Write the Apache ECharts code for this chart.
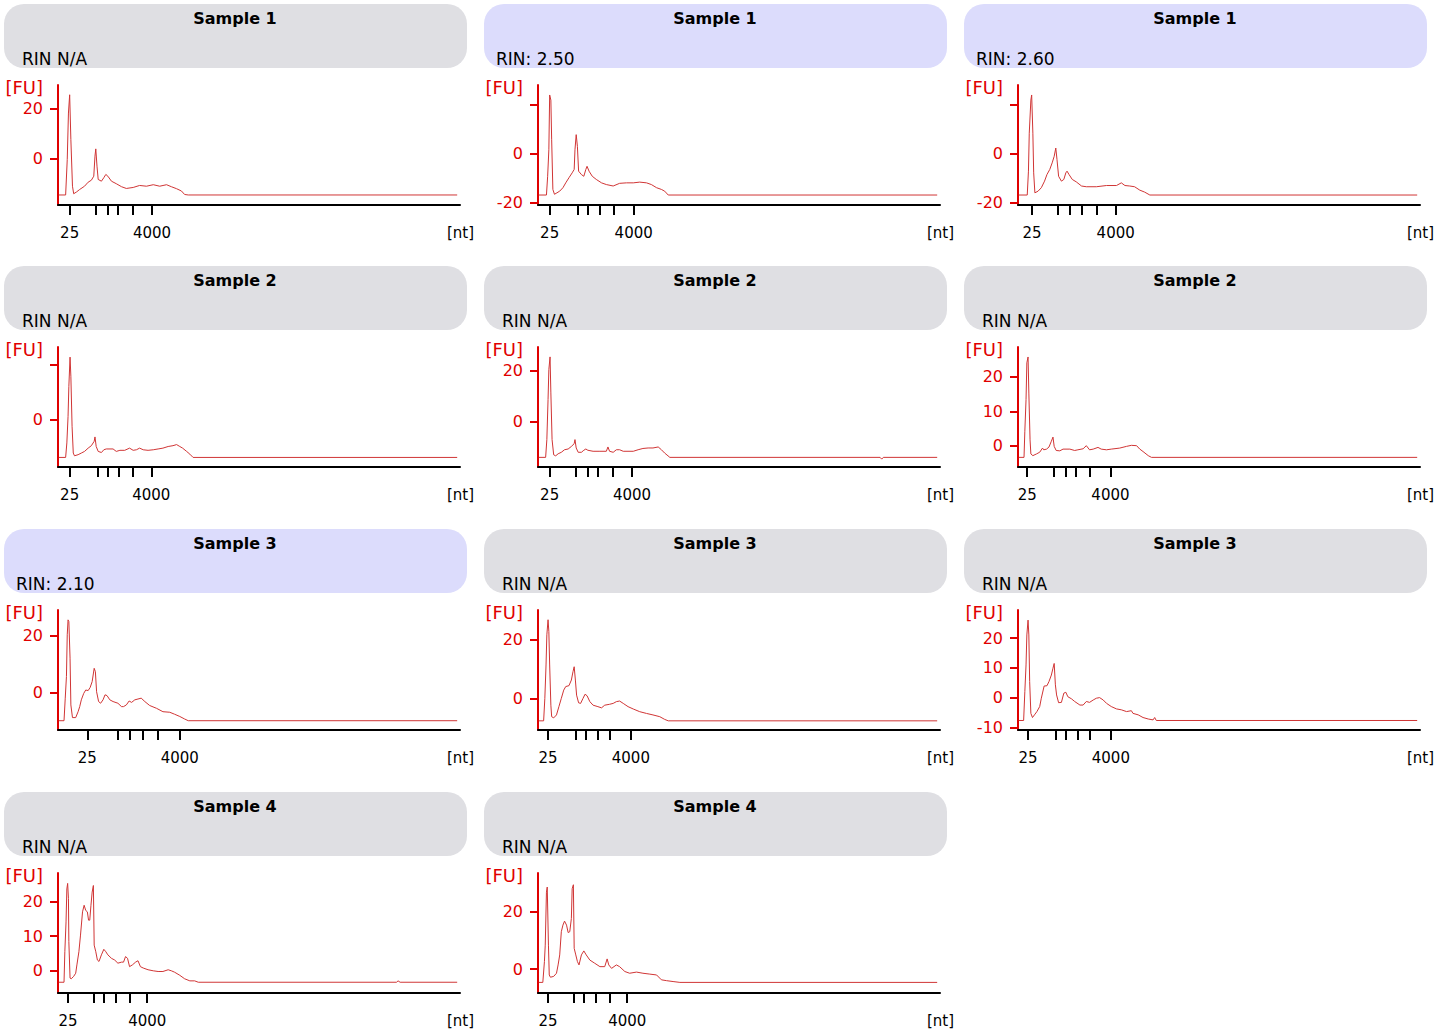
<!DOCTYPE html>
<html>
<head>
<meta charset="utf-8">
<script src="https://cdn.jsdelivr.net/npm/echarts@6/dist/echarts.min.js"></script>
<style>
html,body{margin:0;padding:0;background:#fff;}
#chart{width:1449px;height:1029px;}
</style>
</head>
<body>
<div id="chart"></div>
<script>
// ---------- data ----------
const sampleNames = ['Sample 1','Sample 1','Sample 1','Sample 2','Sample 2','Sample 2','Sample 3','Sample 3','Sample 3','Sample 4','Sample 4'];
const rinLabels = ['RIN N/A','RIN: 2.50','RIN: 2.60','RIN N/A','RIN N/A','RIN N/A','RIN: 2.10','RIN N/A','RIN N/A','RIN N/A','RIN N/A'];
const hasRin = [false,true,true,false,false,false,true,false,false,false,false];
// ladder marker positions (migration time units, 0-100) for 25, 200, 500, 1000, 2000, 4000 nt
const ladderTicks = [
  [2.9,9.4,12.4,14.9,18.5,23.4],
  [2.9,9.8,12.4,15.4,18.8,23.8],
  [3.5,9.8,12.9,15.9,19.5,24.3],
  [2.9,9.8,12.4,15.2,18.5,23.2],
  [2.9,9.4,12.4,14.9,18.5,23.4],
  [2.3,9.0,11.9,14.4,17.8,23.0],
  [7.3,14.9,17.8,21.0,24.7,30.3],
  [2.5,9.5,11.9,14.9,17.8,23.1],
  [2.5,9.5,11.9,14.9,17.8,23.1],
  [2.5,9.0,11.5,14.4,17.8,22.2],
  [2.5,9.0,11.5,14.4,17.8,22.2]
];
const ladderLabels = ['25','4000'];
const fuMin = [-18.4,-21.1,-21.1,-17.3,-18.0,-6.2,-13.4,-10.7,-10.9,-6.4,-8.3];
const fuMax = [29.5,28.2,28.2,26.6,29.3,28.7,29.2,29.9,29.5,28.2,33.6];
const fuTicks = [[0,20],[-20,0,20],[-20,0,20],[0,20],[0,20],[0,10,20],[0,20],[0,20],[-10,0,10,20],[0,10,20],[0,20]];
const fuLabels = [[0,20],[-20,0],[-20,0],[0],[0,20],[0,10,20],[0,20],[0,20],[-10,0,10,20],[0,10,20],[0,20]];

const traceA = [[0.2,-14.4],[1.9,-14.4],[2.3,-0.3],[2.6,18.3],[2.9,25.6],[3.2,7.7],[3.6,-10.9],[3.9,-13.9],[4.6,-13.2],[5.4,-12.2],[6.6,-10.9],[7.5,-9.3],[8.3,-8.5],[8.9,-6.9],[9.2,1.1],[9.4,4.0],[9.7,-2.9],[10.0,-8.2],[10.8,-8.9],[11.4,-7.5],[11.9,-6.2],[12.4,-6.9],[13.3,-8.9],[14.5,-9.9],[15.8,-11.1],[17.0,-11.8],[18.7,-11.4],[20.3,-10.6],[22.0,-10.9],[23.7,-10.3],[25.3,-10.9],[27.0,-10.3],[28.2,-11.1],[29.5,-11.9],[30.7,-12.8],[31.5,-14.2],[32.4,-14.4],[99.3,-14.4]];
const traceB = [[0.2,-17.0],[2.1,-17.0],[2.4,-9.3],[2.7,1.6],[2.9,24.1],[3.2,22.0],[3.4,5.7],[3.7,-14.7],[4.1,-16.7],[4.7,-16.1],[5.4,-15.4],[6.2,-14.0],[6.9,-12.0],[7.7,-9.9],[8.5,-7.9],[9.0,-6.5],[9.2,1.6],[9.5,7.8],[9.8,3.0],[10.1,-7.2],[10.8,-8.6],[11.4,-9.3],[11.9,-6.5],[12.2,-5.2],[12.7,-7.2],[13.5,-9.3],[14.5,-10.6],[15.8,-12.0],[17.0,-12.7],[18.7,-13.3],[20.3,-12.2],[22.0,-12.0],[23.7,-12.0],[25.3,-11.7],[27.0,-12.0],[28.2,-12.7],[29.5,-14.0],[30.7,-14.7],[31.5,-15.4],[32.4,-17.0],[99.3,-17.0]];
const traceC = [[0.2,-17.0],[2.3,-17.0],[2.6,-7.2],[2.8,8.4],[3.2,22.0],[3.4,24.1],[3.7,8.4],[3.9,-7.9],[4.2,-16.1],[5.0,-15.4],[5.8,-14.0],[6.6,-11.3],[7.2,-8.6],[7.9,-6.5],[8.5,-3.8],[9.0,-1.1],[9.4,2.3],[9.7,-2.4],[10.1,-9.3],[10.8,-11.3],[11.4,-10.6],[11.9,-7.9],[12.2,-7.2],[12.7,-8.6],[13.5,-10.6],[14.5,-11.6],[15.8,-13.3],[17.0,-13.6],[19.5,-13.6],[22.0,-13.1],[24.5,-13.1],[25.7,-12.0],[26.6,-13.1],[27.8,-13.3],[29.0,-13.6],[30.3,-15.0],[31.5,-15.8],[32.8,-17.0],[99.3,-17.0]];
const traceD = [[0.2,-13.8],[1.9,-13.8],[2.2,-8.5],[2.5,1.2],[2.7,12.2],[3.0,22.9],[3.2,15.9],[3.5,-2.4],[3.8,-12.2],[4.1,-13.2],[5.0,-12.8],[5.8,-12.2],[6.6,-11.6],[7.5,-10.4],[8.3,-9.5],[9.0,-7.9],[9.2,-6.3],[9.5,-9.8],[10.0,-11.6],[10.8,-12.0],[11.4,-11.0],[12.0,-10.7],[13.7,-10.7],[14.5,-11.6],[15.4,-11.2],[16.6,-11.2],[17.8,-10.4],[18.7,-11.2],[19.5,-11.0],[20.3,-10.4],[21.2,-11.0],[22.4,-11.2],[23.7,-11.0],[24.9,-10.7],[26.1,-10.4],[27.4,-9.8],[28.6,-9.5],[29.5,-9.1],[30.3,-9.8],[31.0,-10.4],[32.0,-11.6],[32.8,-12.6],[33.6,-13.8],[99.3,-13.8]];
const traceE = [[0.2,-14.2],[1.9,-14.2],[2.2,-7.2],[2.5,8.6],[2.7,20.4],[3.0,25.4],[3.2,11.2],[3.5,-7.2],[3.9,-13.2],[4.4,-13.6],[5.0,-12.8],[5.8,-12.2],[6.6,-11.2],[7.5,-10.9],[8.3,-9.9],[9.0,-8.8],[9.2,-7.2],[9.5,-10.5],[10.0,-12.2],[10.8,-12.2],[11.4,-11.4],[11.9,-10.9],[12.4,-11.4],[13.7,-11.8],[15.4,-11.8],[17.0,-11.8],[17.4,-10.1],[17.8,-11.8],[18.7,-12.2],[19.5,-11.2],[20.3,-11.2],[21.2,-11.8],[23.7,-11.8],[24.9,-11.2],[26.1,-10.7],[27.4,-10.5],[28.6,-10.5],[29.9,-10.1],[30.7,-11.2],[31.5,-12.5],[32.8,-14.2],[85.1,-14.2],[85.5,-14.9],[85.9,-14.2],[99.3,-14.2]];
const traceF = [[0.2,-3.4],[1.5,-3.4],[1.7,4.2],[2.0,13.4],[2.2,24.1],[2.5,25.8],[2.7,15.3],[3.0,1.7],[3.2,-2.4],[3.7,-2.9],[4.6,-2.4],[5.4,-1.9],[6.1,-0.7],[6.4,-1.2],[7.1,-1.0],[7.7,-0.4],[8.3,1.3],[8.7,2.5],[9.0,-0.2],[9.5,-1.4],[10.4,-1.5],[11.2,-1.0],[12.9,-1.0],[14.1,-1.4],[14.9,-1.2],[16.2,-0.9],[17.0,0],[17.8,-1.2],[18.7,-1.0],[19.9,-0.5],[20.7,-1.0],[22.0,-1.2],[23.2,-1.0],[25.3,-0.7],[27.0,-0.2],[28.2,0.1],[29.5,0],[30.3,-1.0],[31.1,-1.7],[32.4,-2.9],[33.2,-3.4],[99.3,-3.4]];
const traceG = [[0.2,-10.1],[1.5,-10.1],[1.8,-2.1],[2.1,5.6],[2.3,20.4],[2.5,25.7],[2.7,25.1],[3.0,12.1],[3.2,-4.5],[3.6,-9.0],[4.4,-9.0],[5.0,-6.9],[5.4,-5.1],[5.8,-2.7],[6.4,-0.4],[6.9,0.8],[7.5,0.6],[8.0,1.7],[8.5,3.8],[9.0,8.5],[9.3,7.3],[9.6,0.2],[10.1,-3.3],[10.6,-3.9],[11.2,-2.7],[11.7,-0.9],[12.2,-1.2],[12.9,-2.7],[13.7,-3.3],[14.9,-3.9],[15.8,-5.1],[16.3,-5.1],[17.0,-4.5],[17.7,-3.1],[18.3,-3.6],[19.1,-2.7],[19.9,-2.4],[20.7,-2.1],[21.6,-3.3],[22.8,-4.7],[24.5,-5.7],[26.1,-6.9],[27.8,-7.1],[29.0,-7.8],[30.3,-8.6],[31.5,-9.5],[32.4,-10.1],[99.3,-10.1]];
const traceH = [[0.2,-7.6],[1.4,-7.6],[1.7,0],[2.0,11.3],[2.2,21.5],[2.5,26.6],[2.7,22.6],[2.9,11.3],[3.2,-2.3],[3.4,-6.2],[3.9,-6.6],[4.6,-5.6],[5.2,-2.8],[5.8,0],[6.4,2.8],[6.9,4.0],[7.7,4.3],[8.3,6.2],[8.7,9.0],[9.0,10.7],[9.3,6.2],[9.6,1.1],[10.1,-1.5],[10.6,-1.7],[11.2,0],[11.7,1.4],[12.2,0.9],[12.9,-1.1],[13.7,-2.3],[14.9,-2.8],[15.8,-3.2],[16.6,-2.3],[17.8,-2.0],[18.7,-1.7],[19.5,-1.1],[20.3,-0.9],[21.2,-1.7],[22.4,-2.8],[23.7,-3.6],[25.3,-4.5],[27.0,-5.1],[28.6,-5.6],[30.3,-6.2],[31.5,-7.1],[32.4,-7.6],[99.3,-7.6]];
const traceI = [[0.2,-7.7],[1.4,-7.7],[1.7,2.0],[2.0,11.0],[2.2,21.1],[2.5,26.1],[2.7,21.1],[2.9,5.4],[3.2,-5.3],[3.6,-6.7],[4.1,-5.8],[4.7,-4.7],[5.4,-3.0],[5.8,-0.2],[6.5,3.9],[7.2,4.0],[7.7,5.4],[8.3,7.6],[8.7,9.9],[9.0,11.5],[9.3,4.3],[9.6,0.9],[10.1,-1.7],[10.8,-1.6],[11.4,1.5],[11.9,1.8],[12.4,0.3],[13.3,-0.4],[14.1,-1.3],[15.4,-2.5],[16.2,-2.5],[17.0,-1.3],[17.8,-1.6],[18.7,-0.8],[19.5,-0.2],[20.3,0],[21.2,-0.8],[22.0,-1.9],[23.2,-3.0],[24.5,-3.8],[25.7,-4.1],[27.0,-4.7],[28.2,-4.4],[28.6,-5.3],[29.9,-5.8],[31.1,-6.7],[32.4,-7.2],[33.6,-7.5],[34.0,-6.7],[34.4,-7.7],[99.3,-7.7]];
const traceJ = [[0.2,-3.3],[1.5,-3.3],[1.7,5.5],[2.0,14.1],[2.2,23.6],[2.4,25.2],[2.6,20.8],[2.7,8.4],[3.0,-2.1],[3.3,-2.3],[3.9,-1.6],[4.4,-0.7],[4.7,1.7],[5.2,5.5],[5.6,10.3],[6.1,17.0],[6.5,18.9],[6.9,17.4],[7.3,17.0],[7.6,14.6],[7.9,14.6],[8.2,18.9],[8.5,22.7],[8.8,24.6],[9.0,7.4],[9.4,5.5],[9.8,3.1],[10.2,2.7],[10.8,4.6],[11.4,6.2],[11.9,5.5],[12.4,4.6],[13.3,3.6],[14.1,3.1],[14.9,2.2],[15.8,2.5],[16.3,2.5],[16.8,4.1],[17.3,3.6],[17.8,1.2],[18.5,1.7],[19.3,2.5],[19.9,2.9],[20.5,1.2],[21.2,0.8],[22.4,0.3],[23.7,0],[24.9,-0.2],[26.1,-0.2],[27.4,0.3],[28.2,0],[29.0,-0.4],[30.3,-1.3],[31.5,-2.3],[32.8,-2.9],[34.0,-2.9],[34.9,-3.3],[84.2,-3.3],[84.6,-2.9],[85.1,-3.3],[99.3,-3.3]];
const traceK = [[0.2,-4.6],[1.2,-4.6],[1.6,2.7],[1.8,8.4],[2.1,26.9],[2.3,28.7],[2.6,8.4],[2.8,-2.0],[3.1,-2.8],[3.9,-2.5],[4.6,-1.4],[5.0,1.5],[5.4,5.0],[5.8,13.1],[6.2,15.4],[6.6,16.8],[7.1,15.4],[7.5,12.8],[7.9,13.1],[8.3,17.7],[8.5,28.1],[8.8,29.5],[9.0,7.3],[9.4,5.0],[9.8,2.7],[10.2,1.5],[10.8,5.0],[11.4,6.4],[12.0,5.0],[12.9,3.2],[14.1,2.1],[15.4,0.9],[16.6,0.9],[17.2,3.6],[17.6,1.5],[18.3,0.3],[19.5,1.5],[20.3,0.9],[21.6,-0.8],[22.8,-1.4],[24.5,-1.0],[26.1,-1.4],[27.8,-1.7],[29.5,-2.0],[30.7,-3.7],[32.0,-4.0],[33.6,-4.3],[35.3,-4.6],[99.3,-4.6]];
const traces = [traceA,traceB,traceC,traceD,traceE,traceF,traceG,traceH,traceI,traceJ,traceK];

// ---------- layout ----------
const FONT = 'DejaVu Sans';
const RED = '#e00000';
const colX = [0, 480, 960];
const rowY = [0, 262, 525, 788];

const option = {
  backgroundColor: '#ffffff',
  animation: false,
  title: [], graphic: [], grid: [], xAxis: [], yAxis: [], series: []
};

traces.forEach((tr, i) => {
  const cx = colX[i % 3], ry = rowY[Math.floor(i / 3)];
  option.graphic.push({
    type: 'rect', z: -1,
    shape: { x: cx + 4, y: ry + 4, width: 463, height: 64, r: 20 },
    style: { fill: hasRin[i] ? '#dcdcfc' : '#dfdfe3' }
  });
  option.title.push({
    text: sampleNames[i], left: cx + 235, top: ry + 10, textAlign: 'center', padding: 0,
    textStyle: { fontFamily: FONT, fontSize: 16, fontWeight: 'bold', color: '#000' }
  });
  option.title.push({
    text: rinLabels[i], left: cx + (hasRin[i] ? 16 : 22), top: ry + 50, padding: 0,
    textStyle: { fontFamily: FONT, fontSize: 17, fontWeight: 'normal', color: '#000' }
  });
  option.grid.push({ left: cx + 58, top: ry + 85, width: 402, height: 120 });
  const lt = ladderTicks[i];
  option.xAxis.push({
    gridIndex: i, type: 'value', min: 0, max: 100,
    name: '[nt]', nameLocation: 'end', nameGap: 14,
    nameTextStyle: { fontFamily: FONT, fontSize: 15, color: '#000', align: 'right', verticalAlign: 'top', padding: [20, 0, 0, 0] },
    axisLine: { onZero: false, lineStyle: { color: '#000', width: 2 } },
    axisTick: { show: true, customValues: lt, length: 10, lineStyle: { color: '#000', width: 2 } },
    axisLabel: {
      customValues: [lt[0], lt[lt.length - 1]], margin: 20,
      fontFamily: FONT, fontSize: 15, color: '#000',
      formatter: v => (Math.abs(v - lt[0]) < 1e-6 ? ladderLabels[0] : ladderLabels[1])
    },
    splitLine: { show: false }
  });
  option.yAxis.push({
    gridIndex: i, type: 'value', min: fuMin[i], max: fuMax[i],
    name: '[FU]', nameLocation: 'end', nameGap: -2,
    nameTextStyle: { fontFamily: FONT, fontSize: 18, color: RED, align: 'right', verticalAlign: 'middle', padding: [0, 15, 0, 0] },
    axisLine: { show: true, lineStyle: { color: RED, width: 2 } },
    axisTick: { show: true, customValues: fuTicks[i], length: 8, lineStyle: { color: RED, width: 2 } },
    axisLabel: { customValues: fuLabels[i], margin: 15, fontFamily: FONT, fontSize: 16, color: RED, padding: [2, 0, 0, 0] },
    splitLine: { show: false }
  });
  option.series.push({
    type: 'line', xAxisIndex: i, yAxisIndex: i, data: tr,
    symbol: 'none', showSymbol: false, silent: true,
    lineStyle: { color: '#d03535', width: 1 }
  });
});

const chart = echarts.init(document.getElementById('chart'), null, { renderer: 'svg' });
chart.setOption(option);
</script>
</body>
</html>
